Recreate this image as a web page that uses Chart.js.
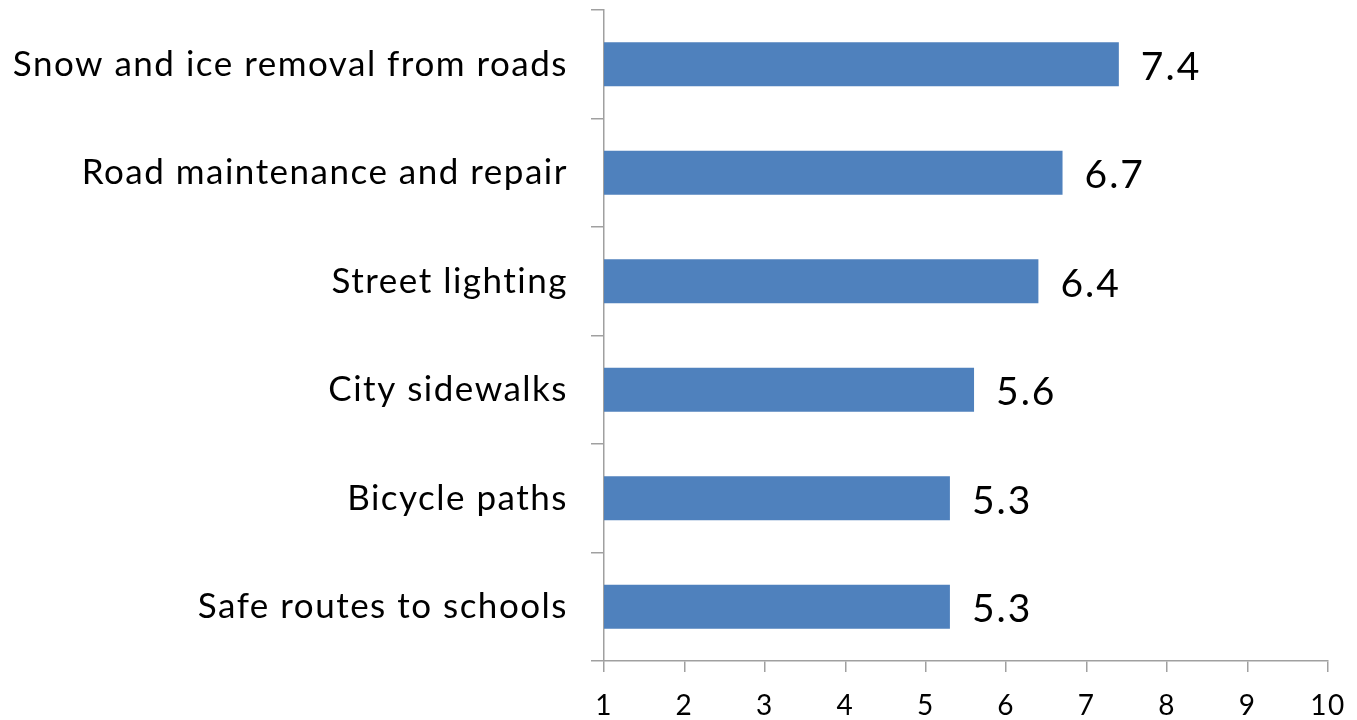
<!DOCTYPE html>
<html>
<head>
<meta charset="utf-8">
<script src="https://cdn.jsdelivr.net/npm/chart.js@4"></script>
<style>
html,body{margin:0;padding:0;background:#fff;}
#wrap{width:1357px;height:720px;position:relative;}
</style>
</head>
<body>
<div id="wrap"><canvas id="c" width="1357" height="720"></canvas></div>
<script>
const categories = ["Snow and ice removal from roads","Road maintenance and repair","Street lighting","City sidewalks","Bicycle paths","Safe routes to schools"];
const values = [7.4, 6.7, 6.4, 5.6, 5.3, 5.3];
const xTicks = [1,2,3,4,5,6,7,8,9,10];

const FONT = "Lato, 'Open Sans', sans-serif";

const spacingPlugin = {
  id: 'spacing',
  beforeDraw(chart) { chart.ctx.letterSpacing = '1.5px'; }
};

const labelPlugin = {
  id: 'barLabels',
  afterDatasetsDraw(chart) {
    const ctx = chart.ctx;
    const meta = chart.getDatasetMeta(0);
    ctx.save();
    ctx.letterSpacing = '2px';
    ctx.font = "39px " + FONT;
    ctx.fillStyle = "#000";
    ctx.textAlign = "left";
    ctx.textBaseline = "middle";
    meta.data.forEach((bar, i) => {
      ctx.fillText(values[i].toFixed(1), bar.x + 22, bar.y + 3);
    });
    ctx.restore();
  }
};

new Chart(document.getElementById('c'), {
  type: 'bar',
  data: {
    labels: categories,
    datasets: [{
      data: values,
      backgroundColor: '#4F81BD',
      borderWidth: 0,
      categoryPercentage: 0.81,
      barPercentage: 0.5
    }]
  },
  options: {
    indexAxis: 'y',
    responsive: false,
    animation: false,
    devicePixelRatio: 1,
    layout: { padding: { top: 10, right: 29, left: 0, bottom: 0 } },
    plugins: { legend: { display: false }, tooltip: { enabled: false } },
    scales: {
      x: {
        min: 1, max: 10,
        afterBuildTicks(scale) { scale.ticks = xTicks.map(v => ({ value: v })); },
        afterFit(scale) { scale.height = 59; scale.paddingRight = 0; scale.paddingLeft = 0; },
        grid: { drawOnChartArea: false, drawTicks: true, tickLength: 11, color: '#A0A0A0', lineWidth: 1.5 },
        border: { color: '#A0A0A0', width: 1.5 },
        ticks: { color: '#000', font: { family: FONT, size: 28 }, padding: 17, maxRotation: 0 }
      },
      y: {
        afterFit(scale) { scale.width = 604; scale.paddingTop = 0; scale.paddingBottom = 0; },
        grid: { drawOnChartArea: false, drawTicks: true, tickLength: 13, color: '#A0A0A0', lineWidth: 1.5, offset: true },
        border: { color: '#A0A0A0', width: 1.5 },
        ticks: { color: '#000', font: { family: FONT, size: 35 }, padding: 23 }
      }
    }
  },
  plugins: [spacingPlugin, labelPlugin]
});
</script>
</body>
</html>
